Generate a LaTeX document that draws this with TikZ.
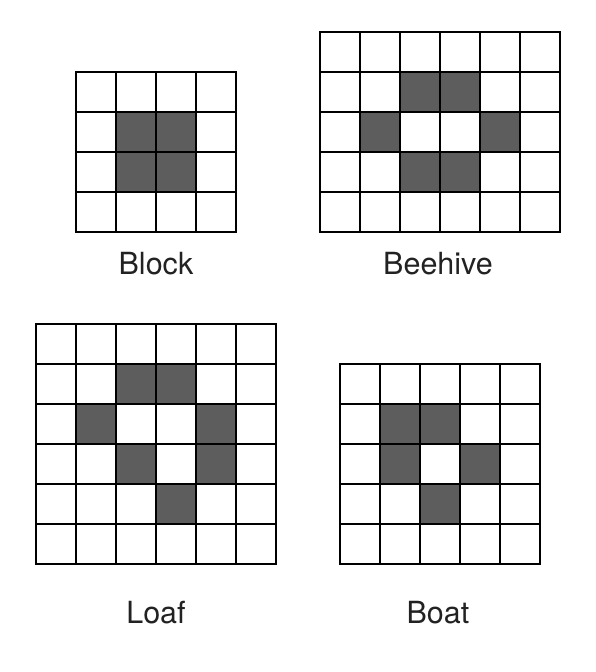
\documentclass[tikz,border=0pt]{standalone}
\usepackage{fontspec}
\setmainfont{TeX Gyre Heros}
\usetikzlibrary{positioning}
\definecolor{cellgray}{HTML}{5D5D5D}
\definecolor{labelgray}{HTML}{222222}

\begin{document}
\begin{tikzpicture}[
  x=1pt,y=-1pt,
  live/.style={fill=cellgray},
  board/.style={draw=black,line width=1.5pt,line cap=rect},
  caption/.style={font=\fontsize{30.5}{36}\selectfont,text=labelgray,anchor=base}
]
  \useasboundingbox[fill=white] (0,0) rectangle (596,672);

  % block, 4x4
  \begin{scope}[shift={(76,72)}]
    \foreach \c/\r in {1/1,2/1,1/2,2/2}
      \fill[live] (40*\c,40*\r) rectangle ++(40,40);
    \foreach \i in {0,...,4} {
      \draw[board] (40*\i,0) -- (40*\i,160);
      \draw[board] (0,40*\i) -- (160,40*\i);
    }
  \end{scope}
  \node[caption] (block) at (156,274) {Block};

  % beehive, 6x5
  \begin{scope}[shift={(320,32)}]
    \foreach \c/\r in {2/1,3/1,1/2,4/2,2/3,3/3}
      \fill[live] (40*\c,40*\r) rectangle ++(40,40);
    \foreach \i in {0,...,6}
      \draw[board] (40*\i,0) -- (40*\i,200);
    \foreach \i in {0,...,5}
      \draw[board] (0,40*\i) -- (240,40*\i);
  \end{scope}
  \node[caption] (beehive) at (438,274) {Beehive};

  % loaf, 6x6
  \begin{scope}[shift={(36,324)}]
    \foreach \c/\r in {2/1,3/1,1/2,4/2,2/3,4/3,3/4}
      \fill[live] (40*\c,40*\r) rectangle ++(40,40);
    \foreach \i in {0,...,6} {
      \draw[board] (40*\i,0) -- (40*\i,240);
      \draw[board] (0,40*\i) -- (240,40*\i);
    }
  \end{scope}
  \node[caption] (loaf) at (156,623) {Loaf};

  % boat, 5x5
  \begin{scope}[shift={(340,364)}]
    \foreach \c/\r in {1/1,2/1,1/2,3/2,2/3}
      \fill[live] (40*\c,40*\r) rectangle ++(40,40);
    \foreach \i in {0,...,5} {
      \draw[board] (40*\i,0) -- (40*\i,200);
      \draw[board] (0,40*\i) -- (200,40*\i);
    }
  \end{scope}
  \node[caption] (boat) at (438,623) {Boat};
\end{tikzpicture}
\end{document}
